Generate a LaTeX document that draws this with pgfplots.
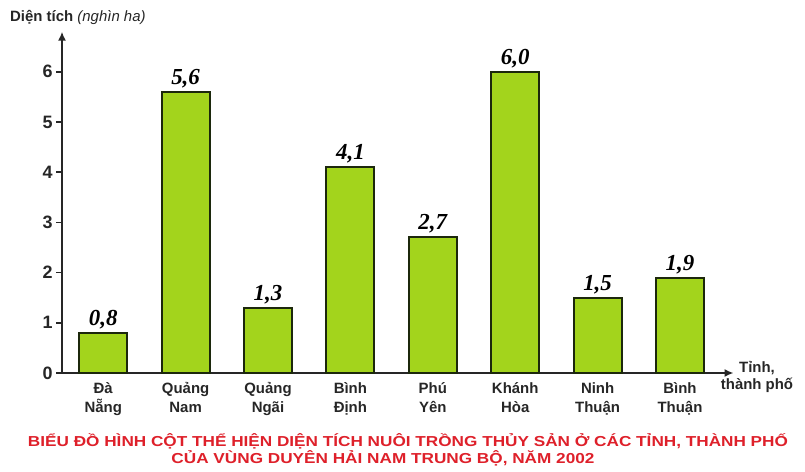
\documentclass[border=0pt]{standalone}
\usepackage{fontspec}
\setmainfont{Liberation Sans}
\newfontfamily\valfont{Liberation Serif}
\usepackage{graphicx}
\usepackage{pgfplots}
\pgfplotsset{compat=1.18}
\usetikzlibrary{arrows.meta}
\definecolor{barfill}{RGB}{163,212,28}
\definecolor{bardraw}{RGB}{28,40,12}
\definecolor{titlered}{RGB}{222,32,42}
\begin{document}
\begin{tikzpicture}
\useasboundingbox (0,0) rectangle (805bp,472bp);
\begin{axis}[
  at={(62bp,99bp)}, anchor=south west,
  x=82.4bp, y=50.2bp,
  xmin=-0.5, xmax=7.65, ymin=0, ymax=6.8,
  axis lines=left,
  axis line style={line width=2bp, draw=black!85, -{Latex[length=9bp,width=8bp]}},
  xtick=data,
  xticklabels={{Đà\\Nẵng},{Quảng\\Nam},{Quảng\\Ngãi},{Bình\\Định},{Phú\\Yên},{Khánh\\Hòa},{Ninh\\Thuận},{Bình\\Thuận}},
  x tick style={draw=none},
  xticklabel style={align=center, font=\bfseries\fontsize{15}{19}\selectfont, text=black!85},
  ytick={0,1,2,3,4,5,6},
  yticklabels={0,1,2,3,4,5,6},
  yticklabel style={font=\bfseries\fontsize{18}{20}\selectfont, text=black!85},
  y tick style={line width=1.5bp, draw=black!85},
  tick align=outside,
  major tick length=6bp,
  ybar, bar width=48bp,
  nodes near coords={\pgfmathprintnumber[fixed,fixed zerofill,precision=1,use comma,assume math mode=true]{\pgfplotspointmeta}},
  every node near coord/.append style={font=\valfont\bfseries\itshape\fontsize{23}{25}\selectfont, text=black, inner sep=1bp, yshift=2bp},
  clip=false,
]
\addplot[fill=barfill, draw=bardraw, line width=2bp] coordinates {
  (0,0.8) (1,5.6) (2,1.3) (3,4.1) (4,2.7) (5,6.0) (6,1.5) (7,1.9)
};
\end{axis}
\node[anchor=west, inner sep=0pt, text=black!85] at (10bp,455bp)
  {\fontsize{15}{18}\selectfont\textbf{Diện tích} \textit{(nghìn ha)}};
\node[align=center, inner sep=0pt, text=black!85, font=\bfseries\fontsize{15}{17}\selectfont] at (757bp,95bp)
  {Tỉnh,\\thành phố};
\node[inner sep=0pt, text=titlered] at (408bp,31bp)
  {\resizebox{760bp}{\height}{\bfseries\fontsize{14.5}{16}\selectfont BIỂU ĐỒ HÌNH CỘT THỂ HIỆN DIỆN TÍCH NUÔI TRỒNG THỦY SẢN Ở CÁC TỈNH, THÀNH PHỐ}};
\node[inner sep=0pt, text=titlered] at (383bp,14bp)
  {\resizebox{423bp}{\height}{\bfseries\fontsize{14.5}{16}\selectfont CỦA VÙNG DUYÊN HẢI NAM TRUNG BỘ, NĂM 2002}};
\end{tikzpicture}
\end{document}
